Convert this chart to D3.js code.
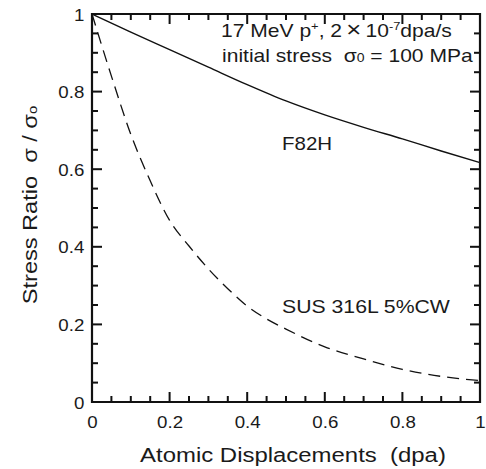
<!DOCTYPE html>
<html>
<head>
<meta charset="utf-8">
<script src="https://cdn.jsdelivr.net/npm/d3@7"></script>
<style>
  body { margin: 0; background: #fff; }
  svg { display: block; font-family: "Liberation Sans", Arial, sans-serif; }
  text { white-space: pre; fill: #1a1a1a; }
</style>
</head>
<body>
<svg width="486" height="469"></svg>
<script>
// dpa values
const dpaF82H = [0, 0.1, 0.2, 0.3, 0.4, 0.5, 0.6, 0.7, 0.8, 0.9, 1.0];
const ratioF82H = [1, 0.953, 0.908, 0.863, 0.818, 0.776, 0.74, 0.708, 0.678, 0.647, 0.617];

const dpaSUS = [0, 0.05, 0.1, 0.15, 0.2, 0.25, 0.3, 0.35, 0.4, 0.45, 0.5, 0.6, 0.7, 0.8, 0.9, 1.0];
const ratioSUS = [1, 0.84, 0.69, 0.57, 0.468, 0.402, 0.343, 0.292, 0.247, 0.214, 0.188, 0.142, 0.111, 0.084, 0.066, 0.055];

const xTicks = [0, 0.2, 0.4, 0.6, 0.8, 1];
const yTicks = [0, 0.2, 0.4, 0.6, 0.8, 1];
const minorTicks = [0.05, 0.1, 0.15, 0.25, 0.3, 0.35, 0.45, 0.5, 0.55, 0.65, 0.7, 0.75, 0.85, 0.9, 0.95];

let svg = d3.select("svg");

let pLeft = 92, pRight = 480, pTop = 14, pBottom = 402;

let xScale = d3.scaleLinear().domain([0, 1]).range([pLeft, pRight]);
let yScale = d3.scaleLinear().domain([0, 1]).range([pBottom, pTop]);

let fmt = (d) => d === 0 ? "0" : d === 1 ? "1" : d3.format(".1f")(d);

// frame
svg.append("path")
    .attr("d", "M" + pLeft + "," + pTop + "H" + pRight + "V" + pBottom + "H" + pLeft + "Z")
    .attr("fill", "none").attr("stroke", "#111").attr("stroke-width", 2.2);

// inward ticks as small filled bars on all four sides
let tickBars = (vals, len) => {
    let bars = [];
    vals.forEach((v) => {
        let x = xScale(v), y = yScale(v);
        bars.push({x: x - 1, y: pBottom - len, w: 2, h: len});
        bars.push({x: x - 1, y: pTop, w: 2, h: len});
        bars.push({x: pLeft, y: y - 1, w: len, h: 2});
        bars.push({x: pRight - len, y: y - 1, w: len, h: 2});
    });
    svg.append("g").selectAll("rect")
        .data(bars)
        .enter()
        .append("rect")
        .attr("x", (b) => b.x).attr("y", (b) => b.y)
        .attr("width", (b) => b.w).attr("height", (b) => b.h)
        .attr("fill", "#111");
};
tickBars(minorTicks, 6);
tickBars(xTicks, 10);

// tick labels through d3 axes (no tick marks)
let xAxis = svg.append("g")
    .attr("transform", "translate(0," + pBottom + ")")
    .call(d3.axisBottom(xScale).tickValues(xTicks).tickSize(0).tickPadding(14).tickFormat(fmt));
let yAxis = svg.append("g")
    .attr("transform", "translate(" + pLeft + ",0)")
    .call(d3.axisLeft(yScale).tickValues(yTicks).tickSize(0).tickPadding(7).tickFormat(fmt));

[xAxis, yAxis].forEach((g) => {
    g.select(".domain").remove();
    g.selectAll("line").remove();
    g.selectAll("text").attr("font-size", 17).attr("fill", "#1a1a1a");
});
xAxis.selectAll("text").attr("transform", "scale(1.1,1)").attr("dy", "0.71em");
yAxis.selectAll("text").attr("transform", "scale(1.1,1)").attr("dy", "0.36em");

// curves
let line = d3.line()
    .x((d) => xScale(d[0]))
    .y((d) => yScale(d[1]))
    .curve(d3.curveMonotoneX);

svg.append("path")
    .datum(dpaF82H.map((d, i) => [d, ratioF82H[i]]))
    .attr("d", line)
    .attr("fill", "none").attr("stroke", "#111").attr("stroke-width", 1.4);

svg.append("path")
    .datum(dpaSUS.map((d, i) => [d, ratioSUS[i]]))
    .attr("d", line)
    .attr("fill", "none").attr("stroke", "#111").attr("stroke-width", 1.3)
    .attr("stroke-dasharray", "12,7");

// labels, stretched a little horizontally like the original type
let txt = (x, y, size, sx) => svg.append("text")
    .attr("transform", "translate(" + x + "," + y + ") scale(" + sx + ",1)")
    .attr("font-size", size);

txt(282, 150, 18, 1.14).text("F82H");
txt(282, 313, 18, 1.18).text("SUS 316L 5%CW");

let l1 = txt(221, 37, 18, 1.17);
l1.append("tspan").text("17 MeV p");
l1.append("tspan").attr("font-size", 11).attr("dy", -7).text("+");
l1.append("tspan").attr("dy", 7).text(", 2\u2009");
l1.append("tspan").attr("font-size", 22).attr("font-weight", 300).text("\u00d7");
l1.append("tspan").text("\u200910");
l1.append("tspan").attr("font-size", 11).attr("dy", -7).text("-7");
l1.append("tspan").attr("dy", 7).text("dpa/s");

let l2 = txt(222, 62, 18, 1.17);
l2.append("tspan").text("initial stress  \u03c3");
l2.append("tspan").attr("font-size", 12).text("0");
l2.append("tspan").text(" = 100 MPa");

// axis titles
svg.append("text")
    .attr("transform", "translate(293,462) scale(1.14,1)")
    .attr("text-anchor", "middle")
    .attr("font-size", 21)
    .text("Atomic Displacements  (dpa)");

let yt = svg.append("text")
    .attr("transform", "translate(37,205) rotate(-90) scale(1.15,1)")
    .attr("text-anchor", "middle")
    .attr("font-size", 20.5);
yt.append("tspan").text("Stress Ratio  \u03c3 / \u03c3");
yt.append("tspan").attr("font-size", 13).text("o");
</script>
</body>
</html>
